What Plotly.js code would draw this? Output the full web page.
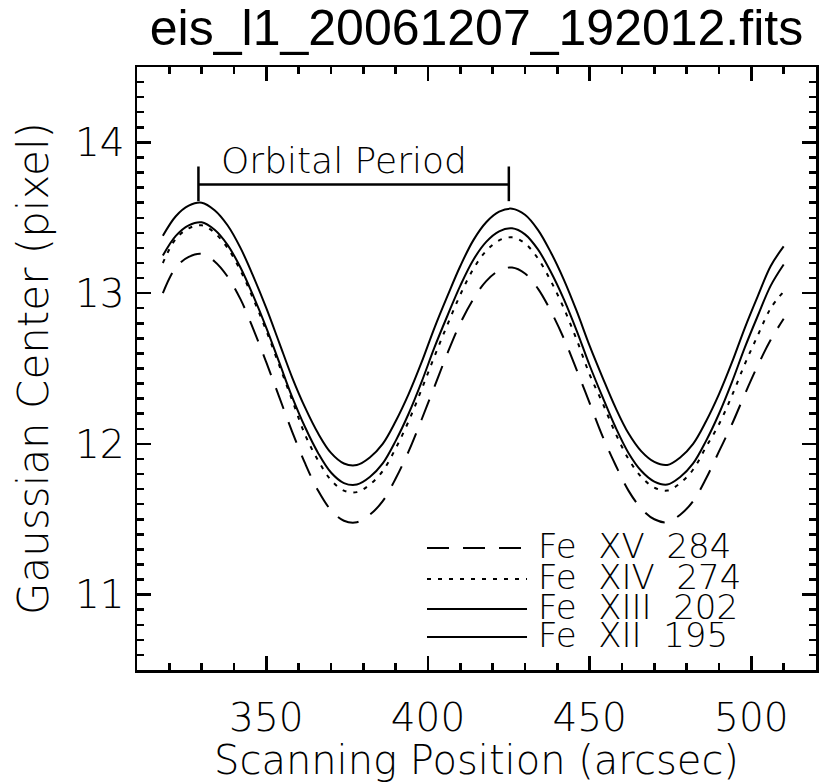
<!DOCTYPE html>
<html>
<head>
<meta charset="utf-8">
<script src="https://cdn.plot.ly/plotly-3.0.1.min.js"></script>
<style>html,body{margin:0;padding:0;background:#fff;}#chart{width:825px;height:783px;}</style>
</head>
<body>
<div id="chart"></div>
<script>
// Scanning position (arcsec)
const scanPos = [318,322,326,330,334,338,342,346,350,354,358,362,366,370,374,378,382,386,390,394,398,402,406,410,414,418,422,426,430,434,438,442,446,450,454,458,462,466,470,474,478,482,486,490,494,498,502,506,510];

// Gaussian center (pixel) for each line
const feXII195 = [13.38,13.51,13.58,13.60,13.55,13.45,13.30,13.11,12.90,12.67,12.44,12.24,12.07,11.94,11.87,11.86,11.91,12.00,12.15,12.33,12.54,12.77,12.98,13.18,13.35,13.47,13.54,13.56,13.52,13.42,13.27,13.09,12.88,12.65,12.44,12.24,12.07,11.95,11.88,11.86,11.91,12.00,12.15,12.33,12.54,12.77,12.98,13.18,13.31];
const feXIII202 = [13.25,13.38,13.45,13.47,13.42,13.32,13.17,12.98,12.77,12.54,12.31,12.11,11.94,11.81,11.74,11.73,11.78,11.87,12.02,12.20,12.41,12.64,12.85,13.05,13.22,13.34,13.41,13.43,13.39,13.29,13.14,12.96,12.75,12.52,12.31,12.11,11.94,11.82,11.75,11.73,11.78,11.87,12.02,12.20,12.41,12.64,12.85,13.05,13.19];
const feXIV274 = [13.20,13.36,13.43,13.45,13.40,13.30,13.15,12.96,12.75,12.52,12.29,12.06,11.89,11.76,11.69,11.68,11.73,11.82,11.97,12.15,12.36,12.58,12.79,12.99,13.16,13.28,13.35,13.37,13.33,13.23,13.08,12.90,12.69,12.46,12.27,12.07,11.90,11.78,11.71,11.69,11.74,11.83,11.98,12.13,12.32,12.53,12.72,12.90,13.01];
const feXV284 = [13.00,13.17,13.24,13.26,13.21,13.11,12.96,12.76,12.54,12.31,12.08,11.87,11.69,11.56,11.49,11.48,11.53,11.62,11.77,11.95,12.16,12.38,12.60,12.80,12.96,13.08,13.15,13.17,13.13,13.03,12.88,12.70,12.49,12.27,12.05,11.86,11.69,11.57,11.50,11.48,11.53,11.62,11.77,11.95,12.13,12.33,12.52,12.69,12.83];

// Orbital period marker (arcsec, pixel)
const periodPeaks = [329, 425];
const periodLevel = 13.72;
const periodTickSpan = [13.61, 13.84];

const seriesNames = ['Fe\u00A0\u00A0XV\u00A0\u00A0284', 'Fe\u00A0\u00A0XIV\u00A0\u00A0274', 'Fe\u00A0\u00A0XIII\u00A0\u00A0202', 'Fe\u00A0\u00A0XII\u00A0\u00A0195'];
const seriesData = [feXV284, feXIV274, feXIII202, feXII195];
const seriesDash = ['22px,14px', '4px,7px', 'solid', 'solid'];

const tickFont = {family: 'DejaVu Sans', size: 39, color: '#000', weight: 200};
const xTitleFont = {family: 'DejaVu Sans', size: 40, color: '#000', weight: 200};
const yTitleFont = {family: 'DejaVu Sans', size: 42, color: '#000', weight: 200};

const traces = seriesData.map((ys, i) => ({
  x: scanPos, y: ys, type: 'scatter', mode: 'lines', name: seriesNames[i],
  line: {color: '#000', width: 2, dash: seriesDash[i], shape: 'spline'},
  showlegend: false, hoverinfo: 'skip'
}));

const shapes = [
  {type: 'line', xref: 'x', yref: 'y', x0: periodPeaks[0], x1: periodPeaks[1], y0: periodLevel, y1: periodLevel, line: {color: '#000', width: 2.5}},
  {type: 'line', xref: 'x', yref: 'y', x0: periodPeaks[0], x1: periodPeaks[0], y0: periodTickSpan[0], y1: periodTickSpan[1], line: {color: '#000', width: 2.5}},
  {type: 'line', xref: 'x', yref: 'y', x0: periodPeaks[1], x1: periodPeaks[1], y0: periodTickSpan[0], y1: periodTickSpan[1], line: {color: '#000', width: 2.5}}
];
const annotations = [
  {xref: 'x', yref: 'y', x: (periodPeaks[0] + periodPeaks[1]) / 2 - 3, y: periodLevel, yanchor: 'bottom', xanchor: 'center', text: 'Orbital Period', showarrow: false, font: {family: 'DejaVu Sans', size: 36, color: '#000', weight: 200}, yshift: 2}
];

// legend drawn manually (long sample lines, as in the original)
const legendRows = [0.2023, 0.1509, 0.1012, 0.0547];
legendRows.forEach((ry, i) => {
  shapes.push({type: 'line', xref: 'paper', yref: 'paper', x0: 0.4271, x1: 0.5744, y0: ry, y1: ry, line: {color: '#000', width: 2, dash: seriesDash[i]}});
  annotations.push({xref: 'paper', yref: 'paper', x: 0.5880, y: ry, xanchor: 'left', yanchor: 'middle', yshift: 2, text: seriesNames[i], showarrow: false, font: {family: 'DejaVu Sans', size: 34, color: '#000', weight: 200}});
});

const layout = {
  width: 825, height: 783,
  margin: {l: 137, r: 9, t: 67, b: 113, pad: 0},
  paper_bgcolor: '#fff', plot_bgcolor: '#fff',
  showlegend: false,
  title: {text: 'eis_l1_20061207_192012.fits', font: {family: 'Liberation Sans', size: 50, color: '#000'},
          xref: 'paper', x: 0.5, xanchor: 'center', yref: 'container', y: 1 - 10 / 783, yanchor: 'top'},
  xaxis: {
    range: [310, 520], tick0: 350, dtick: 50, ticks: 'inside', ticklen: 14, tickwidth: 2.5, tickcolor: '#000',
    showline: true, linewidth: 2.5, linecolor: '#000', mirror: 'allticks', showgrid: false, zeroline: false,
    tickfont: tickFont, ticklabelstandoff: 12,
    minor: {dtick: 10, ticks: 'inside', ticklen: 7, tickwidth: 2.5, tickcolor: '#000', showgrid: false},
    title: {text: 'Scanning Position (arcsec)', font: xTitleFont, standoff: 6}
  },
  yaxis: {
    range: [10.5, 14.5], tick0: 11, dtick: 1, ticks: 'inside', ticklen: 14, tickwidth: 2.5, tickcolor: '#000',
    showline: true, linewidth: 2.5, linecolor: '#000', mirror: 'allticks', showgrid: false, zeroline: false,
    tickfont: tickFont, ticklabelstandoff: 2,
    minor: {dtick: 0.1, ticks: 'inside', ticklen: 7, tickwidth: 2.5, tickcolor: '#000', showgrid: false},
    title: {text: 'Gaussian Center (pixel)', font: yTitleFont, standoff: 14}
  },
  shapes: shapes,
  annotations: annotations
};

Plotly.newPlot('chart', traces, layout, {displayModeBar: false, staticPlot: true});
</script>
</body>
</html>
